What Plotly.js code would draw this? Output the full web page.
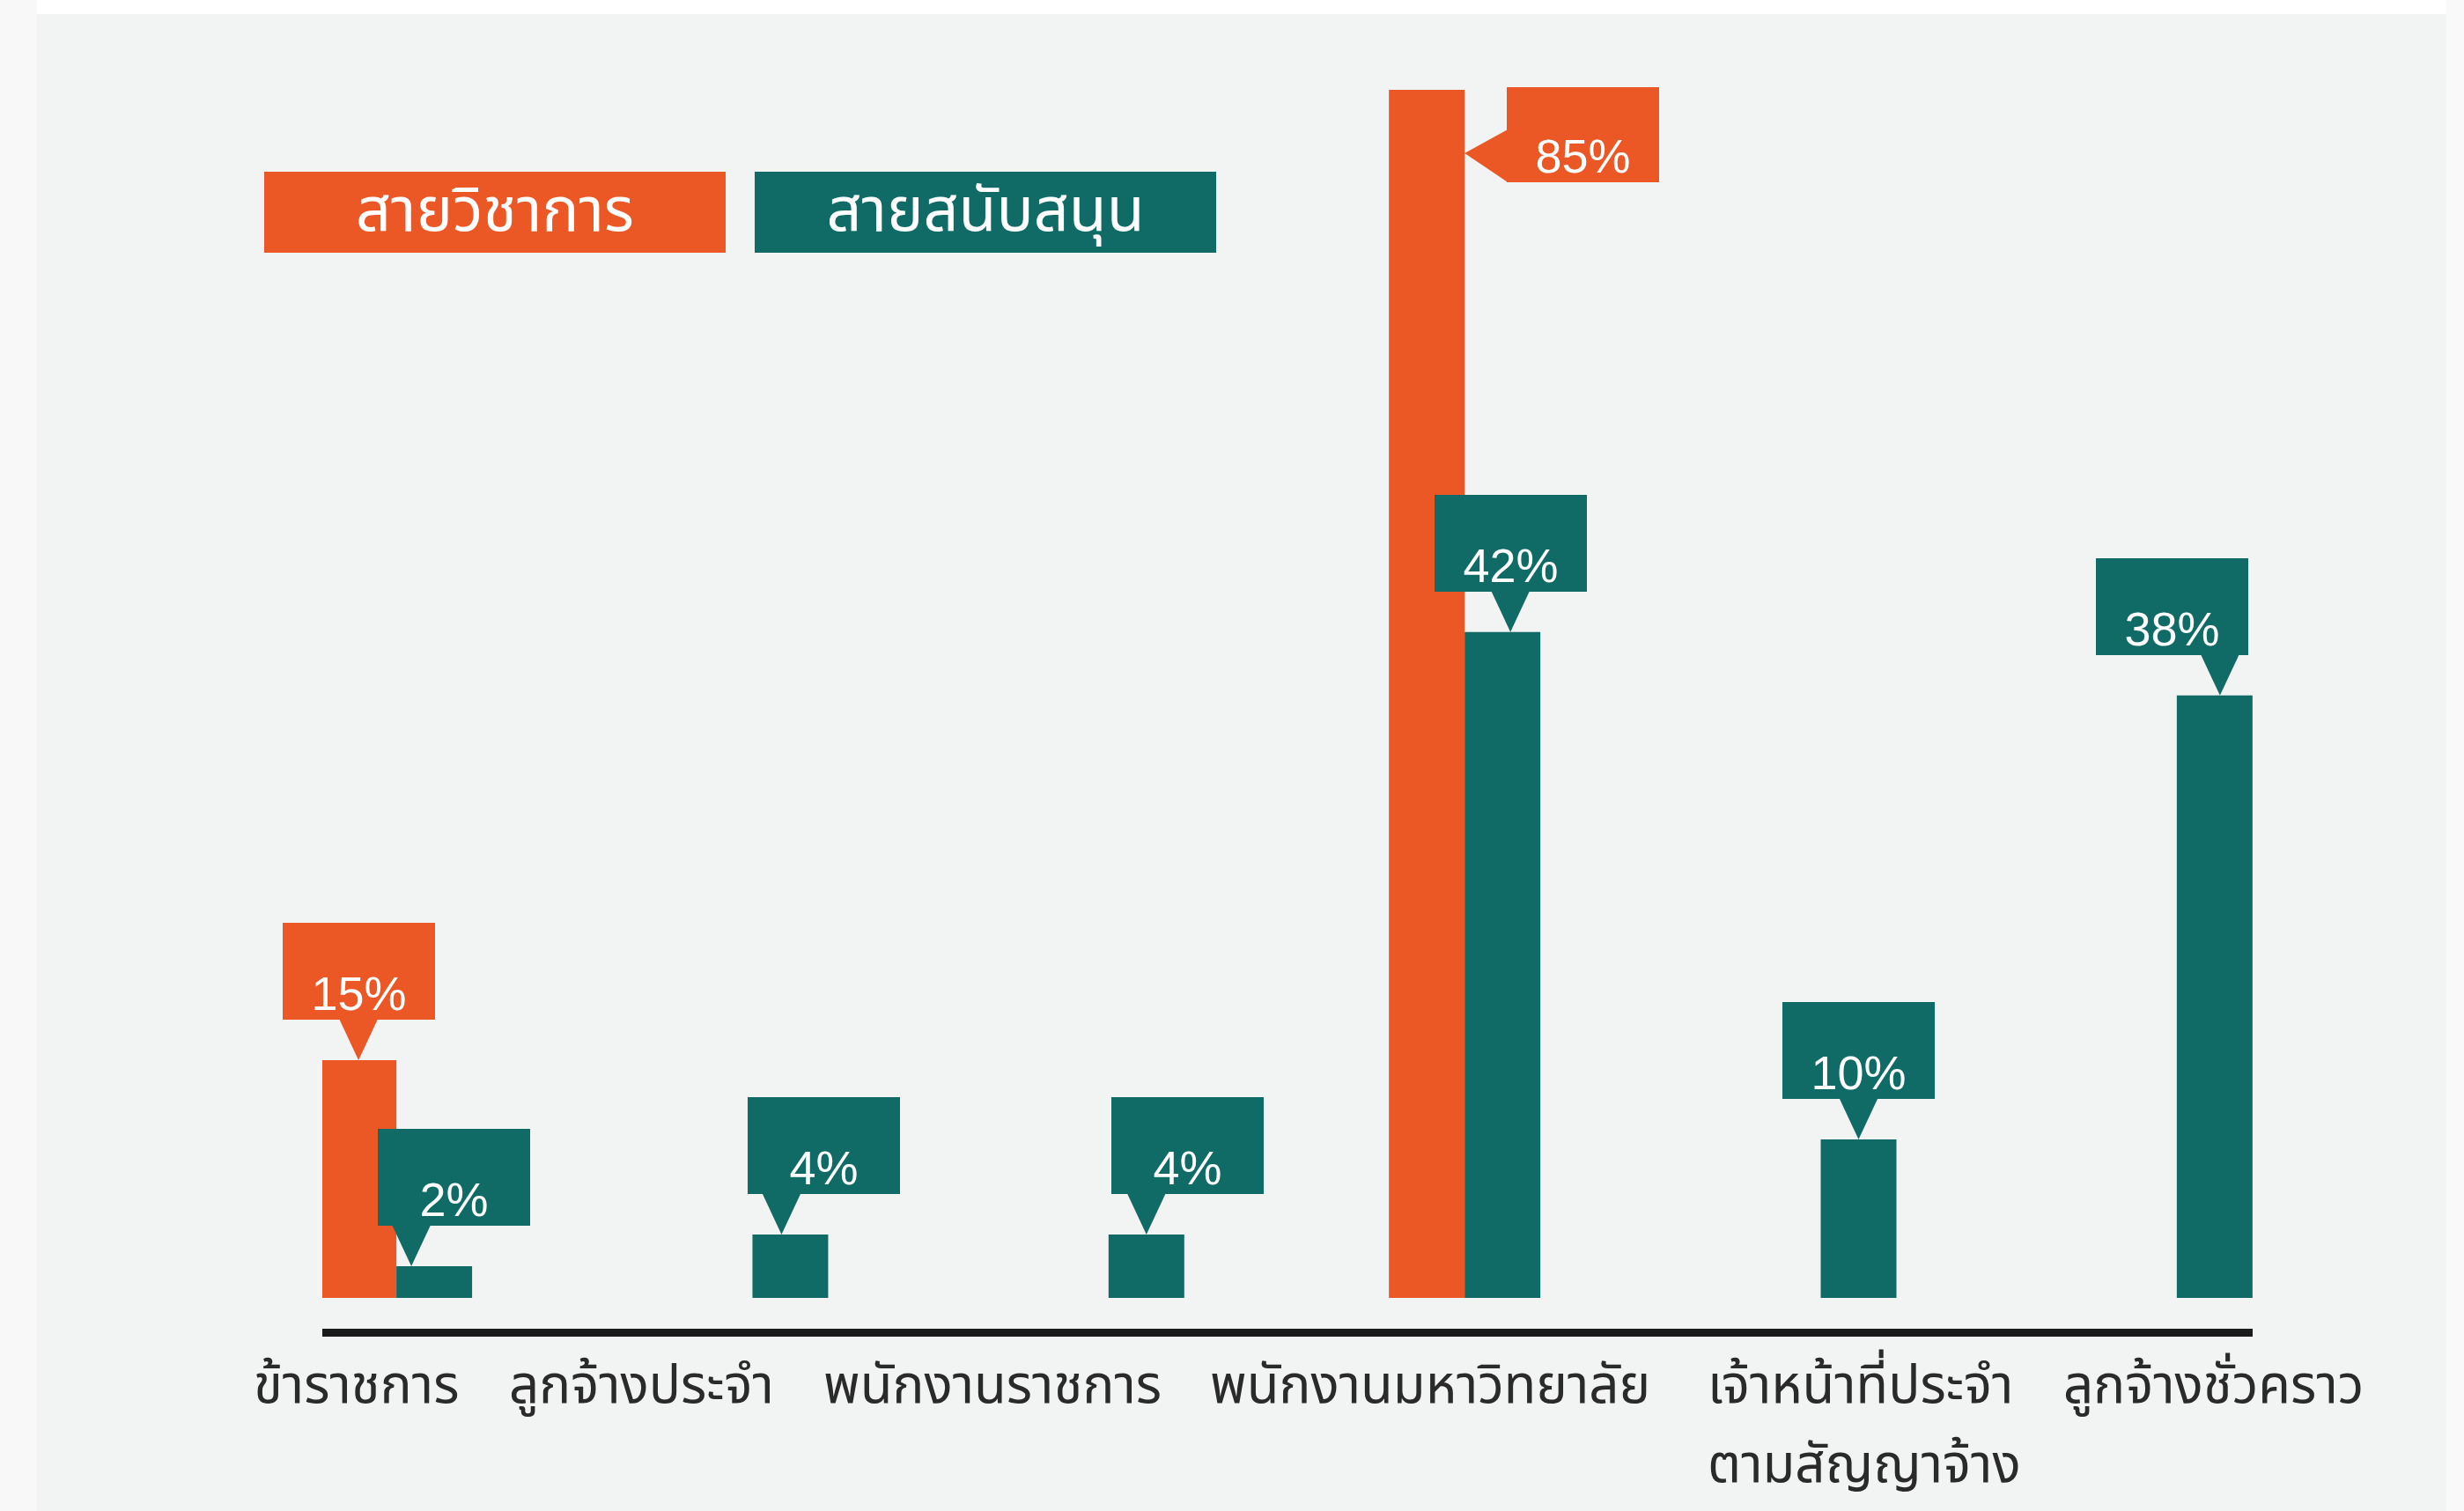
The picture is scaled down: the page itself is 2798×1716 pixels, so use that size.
<!DOCTYPE html>
<html>
<head>
<meta charset="utf-8">
<script src="https://cdn.plot.ly/plotly-3.0.1.min.js"></script>
<style>html,body{margin:0;padding:0;background:#F2F3F3;overflow:hidden;}</style>
</head>
<body>
<div id="chart" style="width:2798px;height:1716px;"></div>
<script>
// ---------------- data ----------------
const categories = ['ข้าราชการ', 'ลูกจ้างประจำ', 'พนักงานราชการ', 'พนักงานมหาวิทยาลัย', 'เจ้าหน้าที่ประจำตามสัญญาจ้าง', 'ลูกจ้างชั่วคราว'];
const tickLabelLines = [['ข้าราชการ'], ['ลูกจ้างประจำ'], ['พนักงานราชการ'], ['พนักงานมหาวิทยาลัย'], ['เจ้าหน้าที่ประจำ', 'ตามสัญญาจ้าง'], ['ลูกจ้างชั่วคราว']];
const seriesNames = ['สายวิชาการ', 'สายสนับสนุน'];
const academicPct = [15, null, null, 85, null, null];
const supportPct = [2, 4, 4, 42, 10, 38];

// ---------------- style ----------------
const W = 2798, H = 1716;
const M = {l: 366, r: 240, t: 102, b: 207};
const plotW = W - M.l - M.r, plotH = H - M.t - M.b;
const xRange = [-0.208, 5.213];
const yRange = [-1.94, 76.2];
const bargap = 0.5747;
const off = (1 - bargap) / 4;
const colors = ['#EC5726', '#106B66'];
const thaiFamily = "'Noto Sans Thai', 'Noto Sans', 'DejaVu Sans', sans-serif";
const numFamily = "'Liberation Sans', Arial, sans-serif";
const labelSize = 60, legendSize = 70, calloutSize = 54;
const labelDx = [-46, -126, -132, -39, 45, 42];
const lineGap = 90;
const tipDx = [[0, 0, 0, 0, 0, 0], [-26, -10, 0, 9, 0, 6]];
const boxDx = [[0, 0, 0, 0, 0, 0], [48, 48, 47, 0, 0, -54]];
const CB = {h: 46, H: 110, W: 173, b: 22};

const pxX = px => (px - M.l) / plotW;
const pxY = py => 1 - (py - M.t) / plotH;

const series = [academicPct, supportPct];

const traces = series.map((vals, s) => ({
  type: 'bar',
  name: seriesNames[s],
  x: categories,
  y: vals,
  marker: {color: colors[s], line: {width: 0}},
  hoverinfo: 'skip',
  showlegend: false
}));

const shapes = [
  // page edges
  {type: 'rect', xref: 'paper', yref: 'paper', x0: pxX(0), x1: pxX(W), y0: pxY(0), y1: pxY(16), fillcolor: '#FFFFFF', line: {width: 0}, layer: 'below'},
  {type: 'rect', xref: 'paper', yref: 'paper', x0: pxX(0), x1: pxX(42), y0: pxY(0), y1: pxY(H), fillcolor: '#F8F8F8', line: {width: 0}, layer: 'below'},
  {type: 'rect', xref: 'paper', yref: 'paper', x0: pxX(2778), x1: pxX(W), y0: pxY(0), y1: pxY(H), fillcolor: '#F9F9F9', line: {width: 0}, layer: 'below'}
];
const annotations = [];

series.forEach((vals, s) => {
  vals.forEach((v, i) => {
    if (v === null) return;
    const barX = i + (s === 0 ? -off : off);
    if (v > yRange[1]) {
      // bar runs past the top: callout points sideways at the clipped top
      shapes.push({
        type: 'path', xref: 'x', yref: 'y', xsizemode: 'pixel', ysizemode: 'pixel',
        xanchor: barX + off, yanchor: yRange[1],
        path: 'M 0,-72 L 49,-45 L 49,-105 Z',
        fillcolor: colors[s], line: {width: 0}, layer: 'above'
      });
      annotations.push({
        xref: 'x', yref: 'y', x: barX + off, y: yRange[1], xshift: 48, yshift: 3,
        xanchor: 'left', yanchor: 'top', width: CB.W, height: 108, borderpad: 0, borderwidth: 0,
        bgcolor: colors[s], valign: 'bottom',
        text: v + '%', showarrow: false,
        font: {family: numFamily, size: calloutSize, color: '#FFFFFF'}
      });
    } else {
      const t = tipDx[s][i], bd = boxDx[s][i];
      shapes.push({
        type: 'path', xref: 'x', yref: 'y', xsizemode: 'pixel', ysizemode: 'pixel',
        xanchor: barX, yanchor: v,
        path: `M ${t},0 L ${t - CB.b},${CB.h + 1} L ${t + CB.b},${CB.h + 1} Z`,
        fillcolor: colors[s], line: {width: 0}, layer: 'above'
      });
      annotations.push({
        xref: 'x', yref: 'y', x: barX, y: v, xshift: t + bd, yshift: CB.h,
        xanchor: 'center', yanchor: 'bottom', width: CB.W, height: CB.H, borderpad: 0, borderwidth: 0,
        bgcolor: colors[s], valign: 'bottom',
        text: v + '%', showarrow: false,
        font: {family: numFamily, size: calloutSize, color: '#FFFFFF'}
      });
    }
  });
});

// category labels (multi-line labels are left aligned to their first line)
const ctx = document.createElement('canvas').getContext('2d');
ctx.font = `${labelSize}px ${thaiFamily}`;
tickLabelLines.forEach((lines, i) => {
  const w0 = ctx.measureText(lines[0]).width;
  lines.forEach((line, k) => {
    const wk = ctx.measureText(line).width;
    annotations.push({
      xref: 'x', yref: 'paper', x: i, y: 0, xshift: labelDx[i] - (w0 - wk) / 2, yshift: -65 - k * lineGap,
      text: line, showarrow: false, xanchor: 'center', yanchor: 'middle',
      font: {family: thaiFamily, size: labelSize, color: '#2A2A2A'}
    });
  });
});

// legend boxes
const legendCenters = [[562, 241], [1119, 241]];
seriesNames.forEach((name, s) => {
  annotations.push({
    xref: 'paper', yref: 'paper', x: pxX(legendCenters[s][0]), y: pxY(legendCenters[s][1]),
    xanchor: 'center', yanchor: 'middle', width: 524, height: 92, borderpad: 0, borderwidth: 0,
    bgcolor: colors[s], text: name, showarrow: false,
    font: {family: thaiFamily, size: legendSize, color: '#FFFFFF'}
  });
});

const layout = {
  width: W, height: H,
  margin: M,
  paper_bgcolor: '#F2F3F3',
  plot_bgcolor: 'rgba(0,0,0,0)',
  barmode: 'group', bargap: bargap, bargroupgap: 0,
  showlegend: false,
  xaxis: {type: 'category', range: xRange, showline: true, linewidth: 9, linecolor: '#1B1B1B',
          showticklabels: false, ticks: '', showgrid: false, zeroline: false, fixedrange: true},
  yaxis: {range: yRange, showline: false, showgrid: false, zeroline: false, showticklabels: false, ticks: '', fixedrange: true},
  shapes: shapes,
  annotations: annotations
};

Plotly.newPlot('chart', traces, layout, {displayModeBar: false, staticPlot: true});
</script>
</body>
</html>
